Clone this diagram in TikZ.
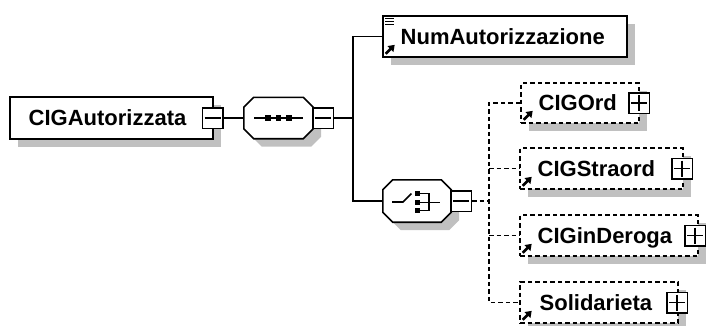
\documentclass[tikz,border=0pt]{standalone}
\usepackage{fontspec}
\setmainfont{Liberation Sans}
\usetikzlibrary{calc,shadows,arrows.meta}
\definecolor{shcol}{RGB}{192,192,192}
\newcommand\octagonshape[1]{%
  \fill[shcol] ($(#1.north west)+(18,8)$) -- ($(#1.north east)+(-2,8)$) -- ($(#1.north east)+(8,18)$) -- ($(#1.south east)+(8,-2)$) -- ($(#1.south east)+(-2,8)$) -- ($(#1.south west)+(18,8)$) -- ($(#1.south west)+(8,-2)$) -- ($(#1.north west)+(8,18)$) -- cycle;
  \draw[line width=1.6pt,fill=white] ($(#1.north west)+(10,0)$) -- ($(#1.north east)+(-10,0)$) -- ($(#1.north east)+(0,10)$) -- ($(#1.south east)+(0,-10)$) -- ($(#1.south east)+(-10,0)$) -- ($(#1.south west)+(10,0)$) -- ($(#1.south west)+(0,-10)$) -- ($(#1.north west)+(0,10)$) -- cycle;}
\newcommand\minusmark[1]{\draw[line width=1.5pt] ([xshift=3pt]#1.west) -- ([xshift=-3pt]#1.east);}
\newcommand\plusmark[1]{\draw[line width=1.5pt] ([xshift=3pt]#1.west) -- ([xshift=-3pt]#1.east) ([yshift=-3pt]#1.north) -- ([yshift=3pt]#1.south);}
\newcommand\refmark[1]{\draw[line width=2.6pt,-{Triangle[length=6pt,width=8pt]}] ([shift={(3.5,-4)}]#1.south west) -- ++(9,-9);}
\begin{document}
\begin{tikzpicture}[x=1pt,y=-1pt,
  elembox/.style={rectangle,draw=black,line width=1.6pt,fill=white,inner sep=0pt,
    general shadow={fill=shcol,shadow xshift=8pt,shadow yshift=-8pt}},
  optbox/.style={elembox,dash pattern=on 4.5pt off 3pt},
  etext/.style={anchor=base west,inner sep=0pt,font=\fontsize{22}{24}\selectfont\bfseries},
  togglebox/.style={rectangle,draw=black,line width=1.5pt,fill=white,minimum size=20.5pt,inner sep=0pt},
  grpbox/.style={rectangle,inner sep=0pt,draw=none},
  conn/.style={line width=1.5pt},
  dconn/.style={conn,dash pattern=on 4.5pt off 3pt},
  sym/.style={line width=1.6pt}
]
\useasboundingbox (0,0) rectangle (706,325);

% root element
\node[elembox,minimum width=203pt,minimum height=42pt] (root) at (111.5,118) {};
\node[etext] (roott) at (28.5,125.5) {CIGAutorizzata};
\node[togglebox] (rootm) at (212.5,118) {};
\minusmark{rootm}

% sequence compositor
\node[grpbox,minimum width=69pt,minimum height=41pt] (seq) at (278.5,118) {};
\octagonshape{seq}
\draw[sym] ([xshift=-24.5pt]seq.center) -- ([xshift=24.5pt]seq.center);
\foreach \dx in {-10.5,0,10.5}{\fill ([xshift=\dx pt]seq.center) +(-2.8,-2.8) rectangle +(2.8,2.8);}
\node[togglebox] (seqm) at (323,118) {};
\minusmark{seqm}

% NumAutorizzazione
\node[elembox,minimum width=244pt,minimum height=41pt] (num) at (505,36.5) {};
\node[etext] (numt) at (400.5,44) {NumAutorizzazione};
\foreach \dy in {3.5,6.5,9.5}{\draw[line width=1.3pt] ([shift={(3,\dy)}]num.north west) -- ++(9,0);}
\refmark{num}

% choice compositor
\node[grpbox,minimum width=68pt,minimum height=42pt] (choice) at (417,201) {};
\octagonshape{choice}
\draw[sym] ($(choice.center)+(-25,1)$) -- ($(choice.center)+(-14,1)$) -- ($(choice.center)+(-5.5,-7.5)$);
\foreach \dy in {-7.5,1.5,9.5}{\fill ($(choice.center)+(0.5,\dy)$) +(-2.6,-2.6) rectangle +(2.6,2.6);}
\draw[sym] ($(choice.center)+(3,-7.5)$) -- ($(choice.center)+(12,-7.5)$) -- ($(choice.center)+(12,9.5)$) -- ($(choice.center)+(3,9.5)$);
\draw[sym] ($(choice.center)+(3,1.5)$) -- ($(choice.center)+(23,1.5)$);
\node[togglebox] (chm) at (461,201) {};
\minusmark{chm}

% optional children
\node[optbox,minimum width=118pt,minimum height=40pt] (ord) at (580,103) {};
\node[etext] (ordt) at (538.5,110.5) {CIGOrd};
\refmark{ord}
\node[togglebox] (ordp) at (639,103) {};
\plusmark{ordp}

\node[optbox,minimum width=163pt,minimum height=41pt] (str) at (601.5,168.5) {};
\node[etext] (strt) at (537.5,176) {CIGStraord};
\refmark{str}
\node[togglebox] (strp) at (682,168.5) {};
\plusmark{strp}

\node[optbox,minimum width=178pt,minimum height=41pt] (der) at (609,235.5) {};
\node[etext] (dert) at (537.5,243) {CIGinDeroga};
\refmark{der}
\node[togglebox] (derp) at (695,235.5) {};
\plusmark{derp}

\node[optbox,minimum width=158pt,minimum height=41pt] (sol) at (599,302.5) {};
\node[etext] (solt) at (539.5,310) {Solidarieta};
\refmark{sol}
\node[togglebox] (solp) at (677,302.5) {};
\plusmark{solp}

% connectors
\coordinate (bus) at (353,118);
\coordinate (dbus) at (489,201);
\draw[conn] (rootm.east) -- (seq.west);
\draw[conn] (seqm.east) -- (bus);
\draw[conn] (num.west) -| (bus |- choice.west) -- (choice.west);
\draw[dconn] (chm.east) -- (dbus);
\draw[dconn] (ord.west) -| (dbus |- sol.west) -- (sol.west);
\draw[dconn] (dbus |- str.west) -- (str.west);
\draw[dconn] (dbus |- der.west) -- (der.west);
\end{tikzpicture}
\end{document}
